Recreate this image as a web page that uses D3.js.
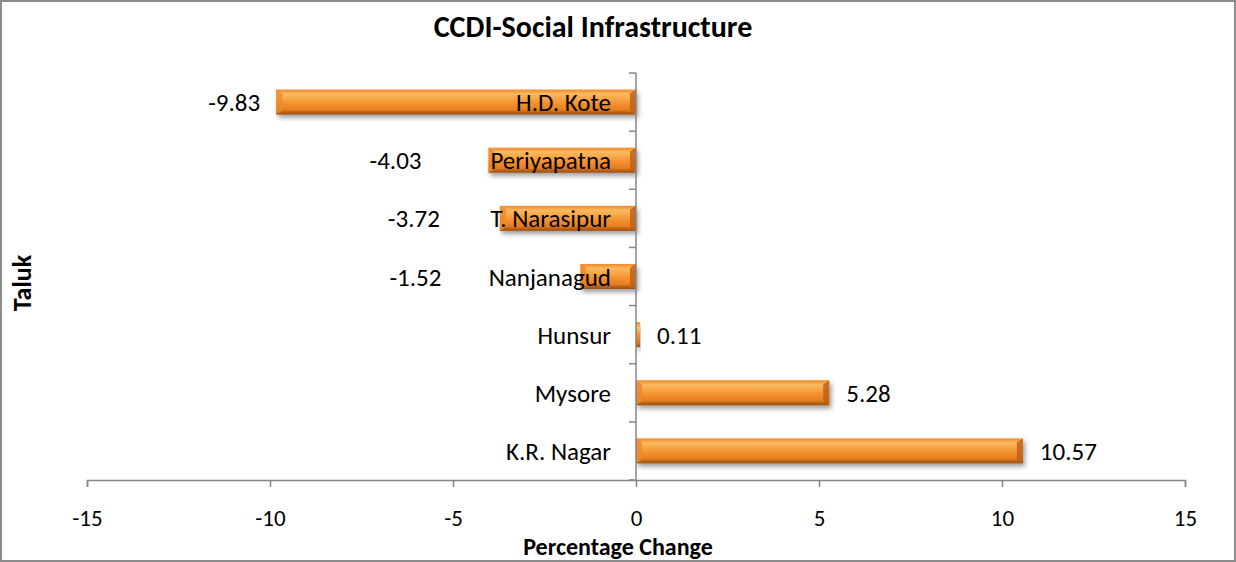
<!DOCTYPE html>
<html><head><meta charset="utf-8">
<script src="https://cdn.jsdelivr.net/npm/d3@7/dist/d3.min.js"></script>
<style>
html,body{margin:0;padding:0;background:#fff;}
svg text{font-family:Carlito,Calibri,Lato,"Open Sans",sans-serif;fill:#000;}
</style></head>
<body>
<svg id="chart" width="1236" height="562"></svg>
<script>
const categories = ["H.D. Kote","Periyapatna","T. Narasipur","Nanjanagud","Hunsur","Mysore","K.R. Nagar"];
const values = [-9.83,-4.03,-3.72,-1.52,0.11,5.28,10.57];
const valueLabels = ["-9.83","-4.03","-3.72","-1.52","0.11","5.28","10.57"];
const xTicks = [-15,-10,-5,0,5,10,15];
const title = "CCDI-Social Infrastructure";
const xTitle = "Percentage Change";
const yTitle = "Taluk";
// per-label horizontal offsets (px) for negative value labels, as placed in the original
const negLabelOffset = [42, 93, 86, 165];

const W = 1236, H = 562;
const FS = 25;
const svg = d3.select("#chart");
const m = {left:87, right:1185, top:73, bottom:480};

svg.append("rect").attr("x",1).attr("y",1).attr("width",W-2).attr("height",H-2)
  .attr("fill","#fff").attr("stroke","#8c8c8c").attr("stroke-width",2);

const defs = svg.append("defs");
const g1 = defs.append("linearGradient").attr("id","outerG").attr("x1",0).attr("y1",0).attr("x2",0).attr("y2",1);
[[0,"#f08a28"],[0.22,"#fcc26c"],[0.5,"#f4942f"],[0.8,"#e07a1c"],[1,"#9c4e12"]].forEach(s=>g1.append("stop").attr("offset",s[0]).attr("stop-color",s[1]));
const g2 = defs.append("linearGradient").attr("id","innerG").attr("x1",0).attr("y1",0).attr("x2",0).attr("y2",1);
[[0,"#fbbb62"],[0.3,"#f8a647"],[0.65,"#f28d2c"],[1,"#e47d20"]].forEach(s=>g2.append("stop").attr("offset",s[0]).attr("stop-color",s[1]));
const f = defs.append("filter").attr("id","shadow").attr("x","-10%").attr("y","-30%").attr("width","130%").attr("height","190%");
f.append("feDropShadow").attr("dx",2).attr("dy",3).attr("stdDeviation",2.5).attr("flood-color","#000").attr("flood-opacity",0.4);

const x = d3.scaleLinear().domain([-15,15]).range([m.left,m.right]);
const y = d3.scaleBand().domain(categories).range([m.top,m.bottom]).paddingInner(0.57).paddingOuter(0.285);

// bars
const bars = svg.append("g").selectAll("g").data(values).join("g")
  .attr("filter","url(#shadow)");
bars.each(function(v,i){
  const gx = d3.select(this);
  const x0 = Math.min(x(0),x(v)), w = Math.abs(x(v)-x(0));
  const yy = y(categories[i]), h = y.bandwidth();
  gx.append("rect").attr("x",x0).attr("y",yy).attr("width",w).attr("height",h).attr("fill","url(#outerG)");
  const b = Math.min(6, w/2), bv = 4;
  if (w > 2*b) {
    gx.append("rect").attr("x",x0+b).attr("y",yy+bv).attr("width",w-2*b).attr("height",h-2*bv).attr("fill","url(#innerG)");
    gx.append("path").attr("d",`M${x0},${yy}L${x0+b},${yy+bv}L${x0+b},${yy+h-bv}L${x0},${yy+h}Z`).attr("fill","#ec8a2e").attr("opacity",0.85);
    gx.append("path").attr("d",`M${x0+w},${yy}L${x0+w-b},${yy+bv}L${x0+w-b},${yy+h-bv}L${x0+w},${yy+h}Z`).attr("fill","#bf6018").attr("opacity",0.85);
  }
});

// y axis (at zero)
const yAxis = svg.append("g").attr("transform",`translate(${x(0)},0)`);
yAxis.append("line").attr("x1",0).attr("x2",0).attr("y1",m.top).attr("y2",m.bottom).attr("stroke","#868686").attr("stroke-width",1.5);
const yTickPos = categories.map(c=>y(c)-y.step()*y.paddingInner()/2).concat([m.bottom]);
yAxis.selectAll("line.t").data(yTickPos).join("line").attr("class","t")
  .attr("x1",-7).attr("x2",0).attr("y1",d=>d).attr("y2",d=>d).attr("stroke","#868686").attr("stroke-width",1.5);

// x axis
const xAxis = svg.append("g").attr("transform",`translate(0,${m.bottom})`)
  .call(d3.axisBottom(x).tickValues(xTicks).tickSize(7).tickPadding(22).tickFormat(d=>String(d)));
xAxis.attr("font-family",null).attr("font-size",null);
xAxis.select(".domain").attr("stroke","#868686").attr("stroke-width",1.5);
xAxis.selectAll(".tick line").attr("stroke","#868686").attr("stroke-width",1.5);
xAxis.selectAll(".tick text").attr("font-size",23).attr("fill","#000").attr("dy",null).attr("y",46);

// category labels (drawn in front of bars)
svg.append("g").selectAll("text").data(categories).join("text")
  .attr("x",x(0)-25).attr("y",d=>y(d)+y.bandwidth()/2).attr("dy","0.36em")
  .attr("text-anchor","end").attr("font-size",FS).text(d=>d);

// value labels
svg.append("g").selectAll("text").data(values).join("text")
  .attr("x",(v,i)=> v<0 ? x(v)-negLabelOffset[i] : x(v)+17)
  .attr("y",(v,i)=>y(categories[i])+y.bandwidth()/2).attr("dy","0.36em")
  .attr("text-anchor",v=> v<0 ? "middle" : "start")
  .attr("font-size",FS).text((v,i)=>valueLabels[i]);

// titles
svg.append("text").attr("x",593).attr("y",37).attr("text-anchor","middle")
  .attr("font-size",30).attr("font-weight","bold").text(title);
svg.append("text").attr("x",618).attr("y",555).attr("text-anchor","middle")
  .attr("font-size",24).attr("font-weight","bold").text(xTitle);
svg.append("text").attr("transform","translate(31,283) rotate(-90)").attr("text-anchor","middle")
  .attr("font-size",26).attr("font-weight","bold").text(yTitle);
</script>
</body></html>
